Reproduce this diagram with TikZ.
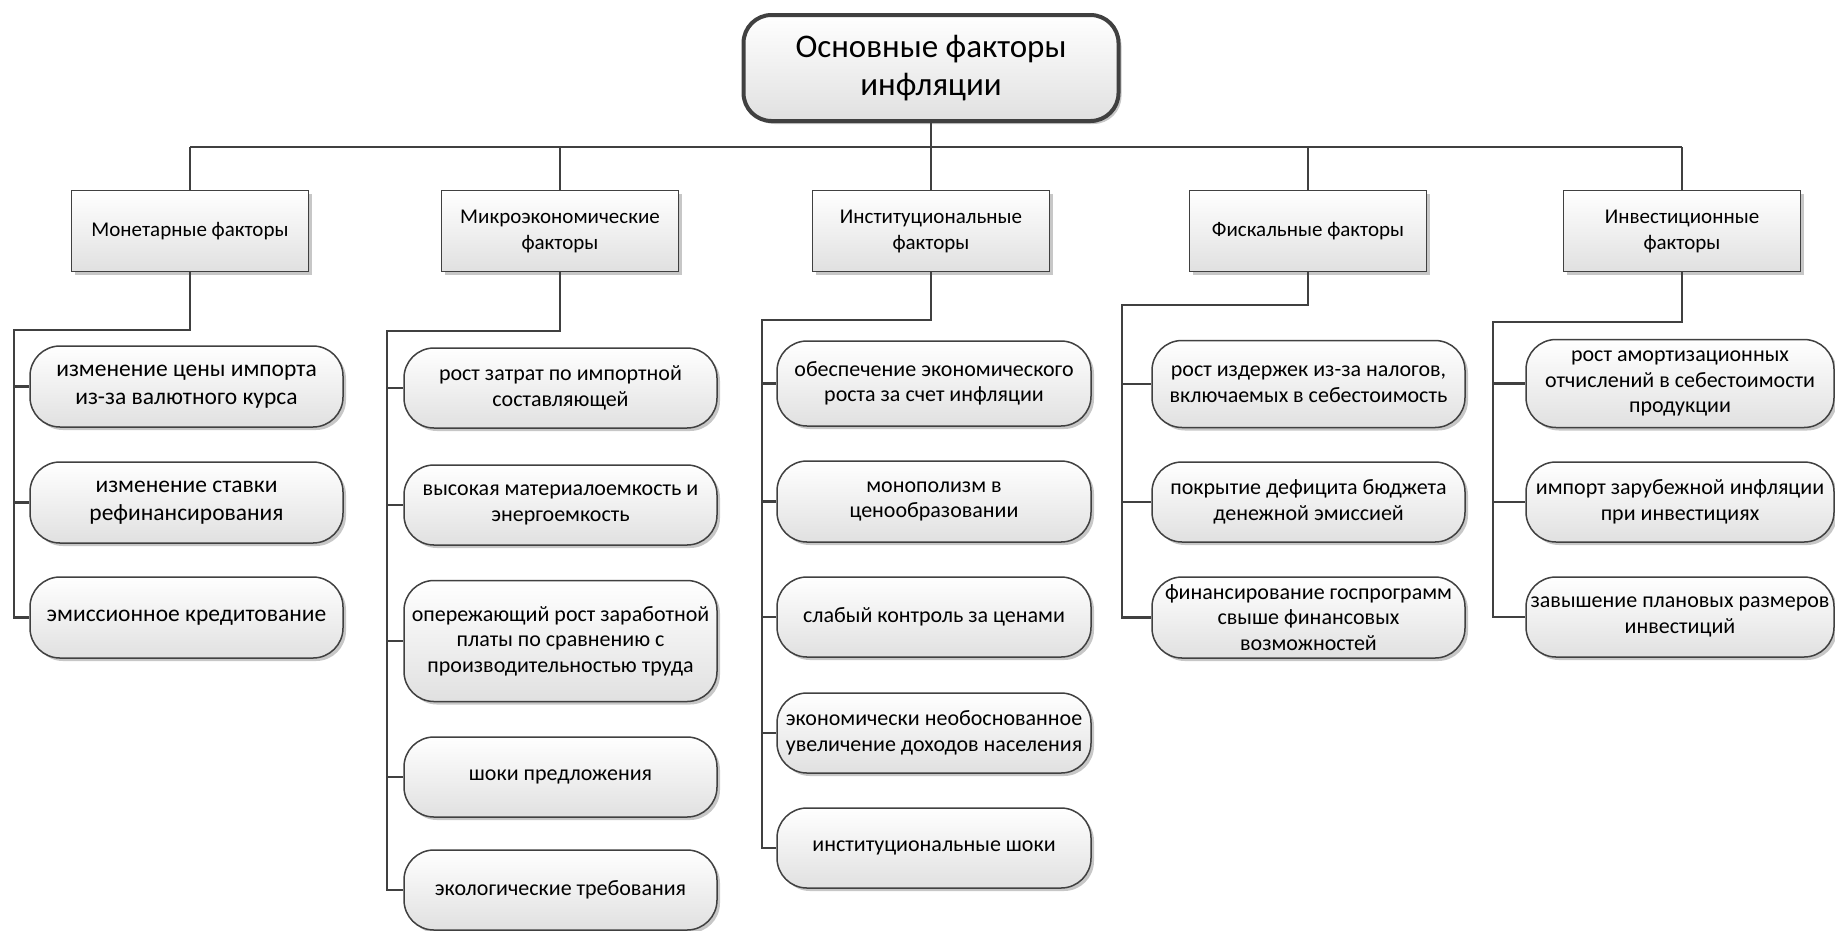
\documentclass[tikz,border=0pt]{standalone}
\usepackage{fontspec}
\setmainfont{Carlito}
\usetikzlibrary{shadows}
\definecolor{ln}{HTML}{404040}
\begin{document}
\begin{tikzpicture}[x=1pt,y=-1pt,
 every node/.style={align=center, inner sep=1pt},
 base/.style={draw=ln, top color=white, bottom color=black!12,
   drop shadow={shadow xshift=3pt, shadow yshift=-3pt, fill=black!22, opacity=1}},
 topbox/.style={base, line width=4pt, rounded corners=28pt, minimum width=375pt, minimum height=106pt,
   font=\fontsize{33}{38}\selectfont},
 catbox/.style={base, line width=1.8pt, minimum width=237pt, minimum height=81pt,
   font=\fontsize{21}{26}\selectfont},
 itembox/.style={base, line width=1.5pt, rounded corners=30pt, minimum width=313pt, minimum height=80pt,
   font=\fontsize{22}{25.5}\selectfont},
 bigitem/.style={itembox, font=\fontsize{23.5}{28}\selectfont},
 conn/.style={draw=ln, line width=2.5pt}
]
\useasboundingbox (0,0) rectangle (1835,930);

% root
\node[topbox] (root) at (931,68) {Основные факторы\\инфляции};

% categories
\node[catbox] (m)  at (190,231)  {Монетарные факторы};
\node[catbox] (mi) at (560,231)  {Микроэкономические\\факторы};
\node[catbox] (in) at (931,231)  {Институциональные\\факторы};
\node[catbox] (f)  at (1308,231) {Фискальные факторы};
\node[catbox] (iv) at (1682,231) {Инвестиционные\\факторы};

% monetary items
\node[bigitem, minimum height=81pt] (m1) at (186.5,386.5) {изменение цены импорта\\из-за валютного курса};
\node[bigitem, minimum height=81pt] (m2) at (186.5,502.5) {изменение ставки\\рефинансирования};
\node[bigitem, minimum height=81pt] (m3) at (186.5,617.5) {эмиссионное кредитование};

% micro items
\node[itembox] (mi1) at (560.5,388) {рост затрат по импортной\\составляющей};
\node[itembox] (mi2) at (560.5,505) {высокая материалоемкость и\\энергоемкость};
\node[itembox, minimum height=121pt] (mi3) at (560.5,641) {опережающий рост заработной\\платы по сравнению с\\производительностью труда};
\node[itembox] (mi4) at (560.5,777) {шоки предложения};
\node[itembox] (mi5) at (560.5,890) {экологические требования};

% institutional items
\node[itembox, minimum width=314pt, minimum height=85pt] (in1) at (934,383.5) {обеспечение экономического\\роста за счет инфляции};
\node[itembox, minimum width=314pt, minimum height=81pt] (in2) at (934,501.5) {монополизм в\\ценообразовании};
\node[itembox, minimum width=314pt] (in3) at (934,617) {слабый контроль за ценами};
\node[itembox, minimum width=314pt] (in4) at (934,733) {экономически необоснованное\\увеличение доходов населения};
\node[itembox, minimum width=314pt] (in5) at (934,848) {институциональные шоки};

% fiscal items
\node[itembox, minimum height=87pt] (f1) at (1308.5,384) {рост издержек из-за налогов,\\включаемых в себестоимость};
\node[itembox] (f2) at (1308.5,502) {покрытие дефицита бюджета\\денежной эмиссией};
\node[itembox, minimum height=81pt] (f3) at (1308.5,617.5) {финансирование госпрограмм\\свыше финансовых\\возможностей};

% investment items
\node[itembox, minimum width=308pt, minimum height=88pt] (iv1) at (1680,383.5) {рост амортизационных\\отчислений в себестоимости\\продукции};
\node[itembox, minimum width=308pt] (iv2) at (1680,502) {импорт зарубежной инфляции\\при инвестициях};
\node[itembox, minimum width=308pt] (iv3) at (1680,617) {завышение плановых размеров\\инвестиций};

% main bus
\coordinate (busL) at (190,147);
\coordinate (busR) at (1682,147);
\draw[conn] (busL) -- (busR);
\draw[conn] (root) -- (root |- busL);
\foreach \c in {m,mi,in,f,iv} \draw[conn] (\c) -- (\c |- busL);

% trunks
\coordinate (mt)  at (14,330);
\coordinate (mit) at (387,331);
\coordinate (int) at (762,320);
\coordinate (ft)  at (1122,305);
\coordinate (ivt) at (1493,322);

\draw[conn] (m)  |- (mt)  -- (m3 -| mt)  -- (m3);
\draw[conn] (mi) |- (mit) -- (mi5 -| mit) -- (mi5);
\draw[conn] (in) |- (int) -- (in5 -| int) -- (in5);
\draw[conn] (f)  |- (ft)  -- (f3 -| ft)  -- (f3);
\draw[conn] (iv) |- (ivt) -- (iv3 -| ivt) -- (iv3);

\foreach \n in {m1,m2} \draw[conn] (\n -| mt) -- (\n);
\foreach \n in {mi1,mi2,mi3,mi4} \draw[conn] (\n -| mit) -- (\n);
\foreach \n in {in1,in2,in3,in4} \draw[conn] (\n -| int) -- (\n);
\foreach \n in {f1,f2} \draw[conn] (\n -| ft) -- (\n);
\foreach \n in {iv1,iv2} \draw[conn] (\n -| ivt) -- (\n);
\end{tikzpicture}
\end{document}
